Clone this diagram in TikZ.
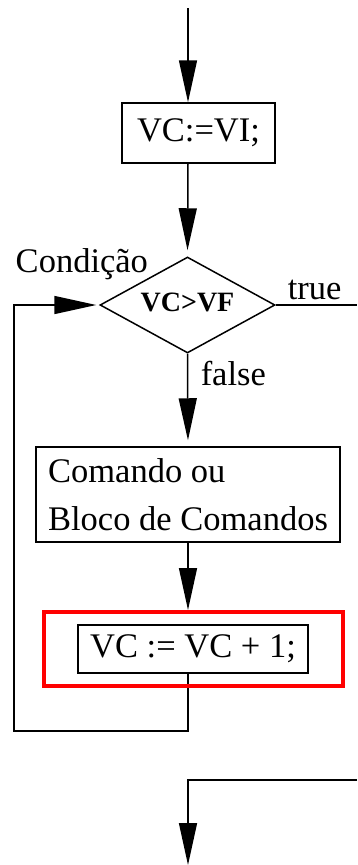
\documentclass[tikz,border=0pt]{standalone}
\usepackage{fontspec}
\setmainfont{Liberation Serif}
\usetikzlibrary{arrows.meta,shapes.geometric}

\begin{document}
\begin{tikzpicture}[x=1pt,y=-1pt,line width=1.5pt,>={Triangle[length=42pt,width=18pt]},
    font=\fontsize{34.5}{48}\selectfont,
    caixa/.style={draw,rectangle,inner sep=0pt},
    rotulo/.style={inner sep=0pt,anchor=base west}]
    \useasboundingbox (0,0) rectangle (357,865);

    % draw the main axis
    \coordinate (eixo) at (188,0);
    \coordinate (inicio) at (188,8);

    % draw the blocks
    \node[caixa,minimum width=153pt,minimum height=60pt] (vi) at (198.5,133) {VC:=VI;};
    \node[draw,diamond,aspect=2,inner sep=0pt,minimum width=175pt,minimum height=96pt,
          font=\bfseries\fontsize{28}{30}\selectfont] (cond) at (187.5,305) {\raisebox{6pt}{VC>VF}};
    \node[caixa,minimum width=304pt,minimum height=95pt,align=left] (bloco) at (188,494.5)
        {Comando ou\\Bloco de Comandos};
    \node[caixa,minimum width=230pt,minimum height=48pt] (inc) at (193,649) {VC := VC + 1;};

    % draw the labels
    \node[rotulo] (lcond) at (15,272) {Condição};
    \node[rotulo] (ltrue) at (287,299) {true};
    \node[rotulo] (lfalse) at (200,385) {false};

    % draw the connectors
    \coordinate (saida) at (357,305);
    \coordinate (volta) at (14,731);
    \coordinate (fim) at (357,780);
    \coordinate (final) at (188,865);
    \draw[->] (inicio) -- (vi.north -| eixo);
    \draw[->,shorten >=6pt] (vi.south -| eixo) -- (cond.north);
    \draw (cond.east) -- (saida);
    \draw[->,shorten >=6pt] (cond.south) -- (bloco.north);
    \draw[->] (inc.south -| eixo) |- (volta) |- ([xshift=-3pt]cond.west);
    \draw[->] (fim) -| (final);

    % highlight the increment
    \node[draw=red,line width=4pt,minimum width=299pt,minimum height=74pt,inner sep=0pt] (destaque) at (193.5,649) {};
    \draw[->] (bloco.south) -- (destaque.north -| eixo);
\end{tikzpicture}
\end{document}
